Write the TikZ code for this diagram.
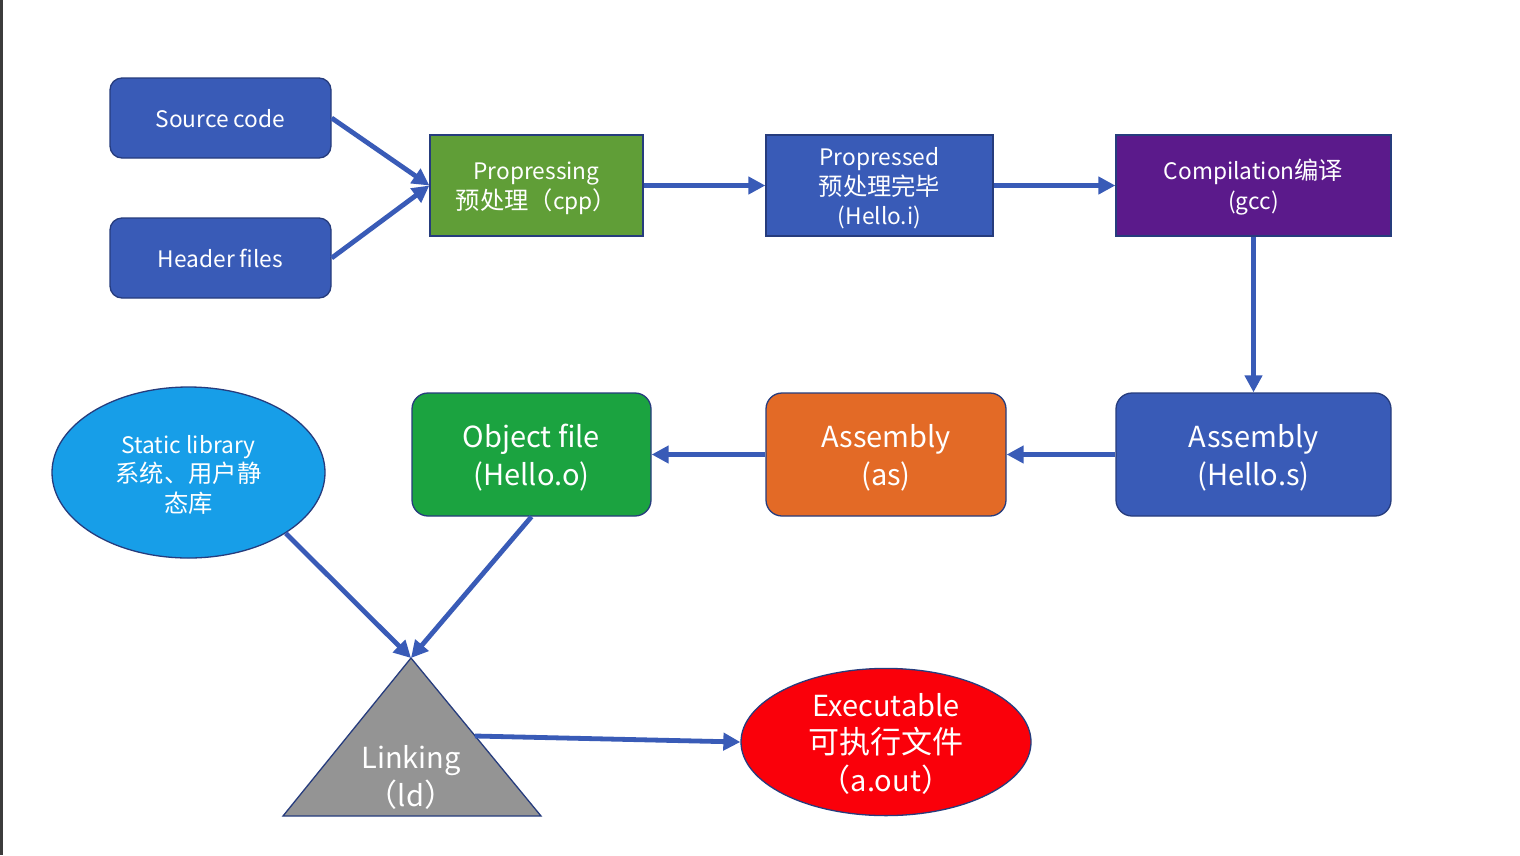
\documentclass[tikz,border=0pt]{standalone}
\usepackage{fontspec}
\setmainfont{Noto Sans CJK SC}
\newfontfamily\cjk{Noto Sans CJK SC}[Scale=1.07]
\newcommand{\tp}[1]{\rule{0pt}{#1em}}
\usetikzlibrary{arrows.meta,shapes.geometric}
\definecolor{boxblue}{RGB}{57,91,183}
\definecolor{bordercol}{RGB}{38,60,125}
\definecolor{cppgreen}{RGB}{96,158,55}
\definecolor{cmppurple}{RGB}{91,26,139}
\definecolor{asmorange}{RGB}{227,106,38}
\definecolor{objgreen}{RGB}{27,163,64}
\definecolor{libblue}{RGB}{23,158,232}
\definecolor{lkgray}{RGB}{148,148,148}
\definecolor{exered}{RGB}{250,0,10}
\definecolor{arrowcol}{RGB}{57,91,183}
\definecolor{framegray}{RGB}{60,60,60}
\begin{document}
\begin{tikzpicture}[x=1pt,y=-1pt,
  box/.style={draw=bordercol, line width=1.3pt, text=white, align=center, inner sep=0pt},
  smalltxt/.style={font=\fontsize{22.7}{29.5}\selectfont},
  bigtxt/.style={font=\fontsize{29}{38}\selectfont},
  arr/.style={draw=arrowcol, line width=4.8pt, -{Triangle[length=17pt,width=17pt]}}]
\useasboundingbox (0,0) rectangle (1520,855);
\fill[white] (0,0) rectangle (1520,855);
\draw[line width=2.5pt, framegray] (1.5,0) -- (1.5,855);

\node[box, smalltxt, fill=boxblue, rounded corners=12pt, minimum width=221pt, minimum height=80pt] (src) at (220.5,118) {\tp{0.85}Source code};
\node[box, smalltxt, fill=boxblue, rounded corners=12pt, minimum width=221pt, minimum height=80pt] (hdr) at (220.5,258) {\tp{0.85}Header files};
\node[box, fill=cppgreen, minimum width=213pt, minimum height=101pt, font=\fontsize{22.7}{30}\selectfont] (cpp) at (536.5,185.5) {\tp{1.05}Propressing\\{\cjk 预处理（}cpp{\cjk ）}};
\node[box, smalltxt, fill=boxblue, minimum width=227pt, minimum height=101pt] (ppd) at (879.5,185.5) {\tp{1.05}Propressed\\{\cjk 预处理完毕}\\(Hello.i)};
\node[box, fill=cmppurple, minimum width=275pt, minimum height=101pt, font=\fontsize{22.7}{30}\selectfont] (cmp) at (1253.5,185.5) {\tp{1.05}Compilation{\cjk 编译}\\(gcc)};
\node[box, bigtxt, fill=boxblue, rounded corners=16pt, minimum width=275pt, minimum height=123pt] (asms) at (1253.5,454.5) {\tp{1.0}Assembly\\(Hello.s)};
\node[box, bigtxt, fill=asmorange, rounded corners=16pt, minimum width=240pt, minimum height=123pt] (asm) at (886,454.5) {\tp{1.0}Assembly\\(as)};
\node[box, bigtxt, fill=objgreen, rounded corners=16pt, minimum width=239pt, minimum height=123pt] (obj) at (531.5,454.5) {\tp{1.0}Object file\\(Hello.o)};
\node[box, smalltxt, ellipse, fill=libblue, minimum width=273pt, minimum height=171pt] (slib) at (188.5,472.5) {\tp{1.0}Static library\\{\cjk 系统、用户静}\\{\cjk 态库}};
\node[box, ellipse, fill=exered, minimum width=290pt, minimum height=144pt, font=\fontsize{29}{37.5}\selectfont] (exe) at (886,742) {\tp{0.9}Executable\\{\cjk 可执行文件}\\{\cjk （}a.out{\cjk ）}};

\draw[draw=bordercol, line width=1.3pt, fill=lkgray] (411,658) coordinate (lkA) -- (541,816) coordinate (lkR) -- (283,816) coordinate (lkL) -- cycle;
\node[bigtxt, text=white, align=center, inner sep=0pt] (lk) at (411,777) {Linking\\{\cjk （}ld{\cjk ）}};
\coordinate (lkout) at (475,736);

\draw[arr] (src.east) -- (cpp.west);
\draw[arr] (hdr.east) -- (cpp.west);
\draw[arr] (cpp.east) -- (ppd.west);
\draw[arr] (ppd.east) -- (cmp.west);
\draw[arr] (cmp.south) -- (asms.north);
\draw[arr] (asms.west) -- (asm.east);
\draw[arr] (asm.west) -- (obj.east);
\draw[arr] (slib.-32) -- (lkA);
\draw[arr] (obj.south) -- (lkA);
\draw[arr] (lkout) -- (exe.west);
\end{tikzpicture}
\end{document}
